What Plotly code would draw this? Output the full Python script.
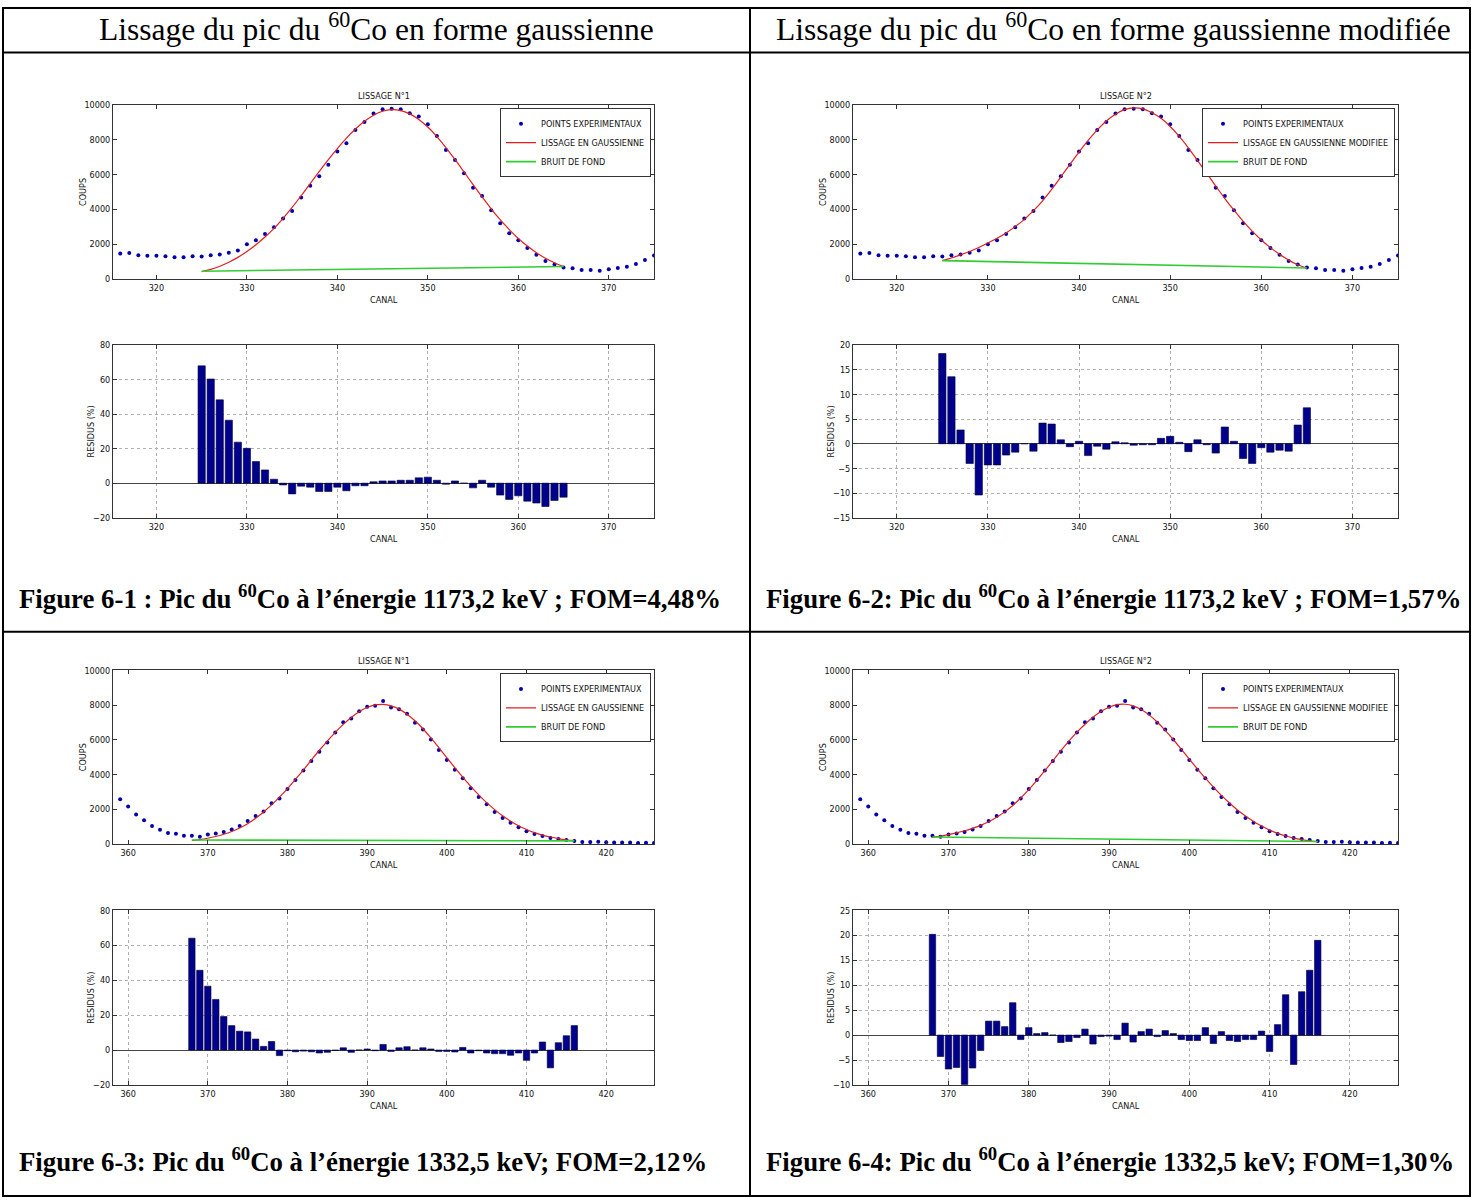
import plotly.graph_objects as go

W, H = 1473, 1203

# ---- 1173,2 keV peak (channels 316-375) ----
canal_a = list(range(316, 376))
coups_a = [1450, 1480, 1350, 1320, 1320, 1290, 1240, 1240, 1300, 1280,
           1350, 1400, 1500, 1620, 1980, 2220, 2580, 2960, 3470, 3900,
           4680, 5360, 5900, 6560, 7330, 7810, 8570, 9030, 9520, 9770,
           9800, 9770, 9540, 9350, 8900, 8230, 7410, 6840, 6080, 5240,
           4770, 3950, 3190, 2620, 2220, 1770, 1380, 1020, 820, 650,
           600, 500, 500, 460, 540, 610, 690, 850, 1080, 1330]
canal_fit_a = list(range(325, 366))
fit_gauss_a = [410, 540, 720, 950, 1230, 1570, 1960, 2400, 2900, 3480,
               4110, 4780, 5480, 6180, 6860, 7500, 8100, 8630, 9070, 9420,
               9650, 9740, 9690, 9500, 9180, 8740, 8190, 7560, 6870, 6150,
               5420, 4710, 4030, 3400, 2830, 2320, 1880, 1500, 1180, 920, 700]
residus_gauss_a = [68, 60.4, 48.3, 36.5, 23.8, 20.2, 12.5, 7.7, 2.3, -1.0,
                   -6.2, -1.7, -2.3, -4.8, -4.8, -2.3, -4.4, -1.5, -1.5, 0.8,
                   1.3, 1.3, 1.7, 1.7, 3.1, 3.5, 1.7, -0.6, 1.3, 0.0,
                   -2.7, 1.7, -2.3, -6.9, -9.4, -7.3, -10.4, -11.5, -13.5, -10.0, -8.1]
fit_mod_a = [1040, 1190, 1370, 1570, 1800, 2060, 2330, 2640, 3000, 3420,
             3920, 4490, 5150, 5860, 6590, 7300, 7970, 8580, 9090, 9480,
             9740, 9840, 9790, 9560, 9240, 8770, 8200, 7540, 6810, 6080,
             5340, 4620, 3950, 3320, 2740, 2230, 1790, 1410, 1070, 800, 620]
residus_mod_a = [18.3, 13.6, 2.8, -4.0, -10.4, -4.3, -4.3, -2.3, -1.7, 0.0,
                 -1.5, 4.2, 4.0, 0.8, -0.6, 0.5, -2.4, -0.5, -1.1, 0.4,
                 0.2, -0.3, -0.2, -0.2, 1.1, 1.5, 0.3, -1.6, 0.8, -0.2,
                 -1.9, 3.4, 0.5, -3.0, -4.0, -0.8, -1.7, -1.3, -1.5, 3.8, 7.3]
canal_bruit_a = [325, 365]
bruit_gauss_a = [430, 700]
bruit_mod_a = [1040, 620]

# ---- 1332,5 keV peak (channels 359-426) ----
canal_b = list(range(359, 427))
coups_b = [2580, 2160, 1700, 1360, 1030, 820, 630, 590, 480, 480,
           420, 540, 610, 690, 840, 1030, 1320, 1610, 1870, 2350,
           2620, 3170, 3690, 4230, 4780, 5320, 5850, 6420, 7020, 7230,
           7650, 7900, 7970, 8240, 7860, 7760, 7510, 6980, 6600, 6020,
           5410, 4840, 4280, 3790, 3210, 2700, 2290, 1840, 1490, 1220,
           960, 730, 570, 460, 340, 290, 230, 170, 120, 110,
           130, 100, 90, 90, 80, 50, 70, 60]
canal_fit_b = list(range(368, 417))
fit_gauss_b = [200, 250, 330, 430, 560, 720, 920, 1170, 1480, 1840,
               2250, 2700, 3190, 3720, 4270, 4840, 5400, 5930, 6430, 6890,
               7290, 7620, 7860, 8010, 8040, 7960, 7770, 7480, 7100, 6640,
               6110, 5550, 4970, 4400, 3850, 3320, 2830, 2380, 1980, 1620,
               1310, 1050, 830, 650, 510, 400, 310, 240, 190]
residus_gauss_b = [64.1, 45.7, 36.6, 29.0, 19.2, 14.0, 10.8, 10.4, 6.3, 2.1,
                   4.9, -3.2, -0.4, -1.0, -0.6, -1.0, -1.7, -1.3, -0.2, 1.3,
                   -1.3, 0.0, 0.6, -0.4, 3.2, -0.8, 1.3, 1.9, 0.0, 1.3,
                   0.6, -0.8, -0.8, -1.1, 1.5, -1.7, -0.4, -1.7, -2.1, -2.1,
                   -3.0, -1.7, -5.9, -1.7, 4.6, -10.2, 4.2, 8.2, 14.0]
fit_mod_b = [390, 450, 540, 640, 760, 900, 1070, 1280, 1540, 1850,
             2220, 2650, 3130, 3660, 4220, 4800, 5380, 5930, 6440, 6900,
             7300, 7630, 7880, 8030, 8050, 7960, 7750, 7440, 7030, 6550,
             6020, 5460, 4890, 4330, 3790, 3280, 2800, 2360, 1960, 1610,
             1300, 1030, 800, 610, 460, 340, 250, 180, 130]
residus_mod_b = [20.2, -4.3, -6.8, -6.5, -9.9, -6.6, -3.1, 2.8, 2.8, 1.7,
                 6.5, -0.9, 1.5, 0.3, 0.5, 0.0, -1.5, -1.3, -0.5, 1.2,
                 -1.8, -0.3, -0.2, -0.9, 2.4, -1.4, 0.7, 1.2, -0.3, 0.9,
                 0.3, -0.9, -1.1, -1.1, 1.5, -1.7, 0.7, -1.1, -1.3, -0.9,
                 -0.9, 0.8, -3.3, 2.1, 8.1, -5.9, 8.7, 13.0, 19.0]
canal_bruit_b = [368, 416]
bruit_gauss_b = [230, 180]
bruit_mod_b = [400, 140]

headers = ["Lissage du pic du <sup>60</sup>Co en forme gaussienne",
           "Lissage du pic du <sup>60</sup>Co en forme gaussienne modifiée"]
captions = [
    "Figure 6-1 : Pic du <sup>60</sup>Co à l’énergie 1173,2 keV ; FOM=4,48%",
    "Figure 6-2: Pic du <sup>60</sup>Co à l’énergie 1173,2 keV ; FOM=1,57%",
    "Figure 6-3: Pic du <sup>60</sup>Co à l’énergie 1332,5 keV; FOM=2,12%",
    "Figure 6-4: Pic du <sup>60</sup>Co à l’énergie 1332,5 keV; FOM=1,30%",
]

panels = [
    dict(col=0, row=0, canal=canal_a, coups=coups_a, canal_fit=canal_fit_a,
         fit=fit_gauss_a, res=residus_gauss_a, canal_bruit=canal_bruit_a,
         bruit=bruit_gauss_a, title="LISSAGE N°1", fitname="LISSAGE EN GAUSSIENNE",
         xr=[315.2, 375], rr=[-20, 80], rd=20),
    dict(col=1, row=0, canal=canal_a, coups=coups_a, canal_fit=canal_fit_a,
         fit=fit_mod_a, res=residus_mod_a, canal_bruit=canal_bruit_a,
         bruit=bruit_mod_a, title="LISSAGE N°2", fitname="LISSAGE EN GAUSSIENNE MODIFIEE",
         xr=[315.2, 375], rr=[-15, 20], rd=5),
    dict(col=0, row=1, canal=canal_b, coups=coups_b, canal_fit=canal_fit_b,
         fit=fit_gauss_b, res=residus_gauss_b, canal_bruit=canal_bruit_b,
         bruit=bruit_gauss_b, title="LISSAGE N°1", fitname="LISSAGE EN GAUSSIENNE",
         xr=[358.1, 426], rr=[-20, 80], rd=20),
    dict(col=1, row=1, canal=canal_b, coups=coups_b, canal_fit=canal_fit_b,
         fit=fit_mod_b, res=residus_mod_b, canal_bruit=canal_bruit_b,
         bruit=bruit_mod_b, title="LISSAGE N°2", fitname="LISSAGE EN GAUSSIENNE MODIFIEE",
         xr=[358.1, 426], rr=[-10, 25], rd=5),
]

# pixel geometry of the table cells
COL_X = [(113, 654), (853, 1398)]
ROWS = [dict(top=(101, 276), res=(343, 517), caption=597),
        dict(top=(671, 846), res=(913, 1089), caption=1165)]
HEADER_Y = 22
COL_CENTER = [377, 1113]
CAPTION_X = [17, 764]


def fx(px):
    return px / W


def fy(py):
    return 1 - py / H


SMALL = dict(family="Liberation Sans Narrow, DejaVu Sans Condensed, Liberation Sans, sans-serif",
             size=9, color="#111111")
SERIF = "Liberation Serif, Times New Roman, serif"

fig = go.Figure()
layout = dict(width=W, height=H, margin=dict(l=0, r=0, t=0, b=0),
              paper_bgcolor="white", plot_bgcolor="white", showlegend=True)
annotations = []
shapes = []


def base_axis():
    return dict(showline=True, linecolor="#333333", linewidth=1, mirror="ticks",
                ticks="inside", ticklen=4, tickcolor="#333333", tickfont=SMALL,
                zeroline=False, showgrid=False, fixedrange=True, tickformat="d")


def note(text, px, py, font, **kw):
    d = dict(text=text, x=fx(px), y=fy(py), xref="paper", yref="paper",
             showarrow=False, font=font, xanchor="center", yanchor="middle")
    d.update(kw)
    return d


for i, p in enumerate(panels):
    x0, x1 = COL_X[p["col"]]
    row = ROWS[p["row"]]
    kt, kr = 2 * i + 1, 2 * i + 2
    xt = "x" if kt == 1 else f"x{kt}"
    yt = "y" if kt == 1 else f"y{kt}"
    xr_, yr_ = f"x{kr}", f"y{kr}"
    leg = "legend" if i == 0 else f"legend{i + 1}"

    # spectrum + fit + background
    fig.add_trace(go.Scatter(x=p["canal"], y=p["coups"], mode="markers",
                             marker=dict(size=4, color="#0000B0"),
                             name="POINTS EXPERIMENTAUX", xaxis=xt, yaxis=yt, legend=leg))
    fig.add_trace(go.Scatter(x=p["canal_fit"], y=p["fit"], mode="lines",
                             line=dict(color="#E02020", width=1.2, shape="spline"),
                             name=p["fitname"], xaxis=xt, yaxis=yt, legend=leg))
    fig.add_trace(go.Scatter(x=p["canal_bruit"], y=p["bruit"], mode="lines",
                             line=dict(color="#33CC33", width=1.6),
                             name="BRUIT DE FOND", xaxis=xt, yaxis=yt, legend=leg))
    # residuals
    fig.add_trace(go.Bar(x=p["canal_fit"], y=p["res"], width=0.8,
                         marker=dict(color="#00008C", line=dict(color="#000033", width=0.6)),
                         showlegend=False, xaxis=xr_, yaxis=yr_))

    ax = base_axis()
    ax.update(domain=[fx(x0), fx(x1)], range=p["xr"], tick0=0, dtick=10, anchor=yt)
    layout["xaxis" if kt == 1 else f"xaxis{kt}"] = ax
    ay = base_axis()
    ay.update(domain=[fy(row["top"][1]), fy(row["top"][0])], range=[0, 10000],
              tick0=0, dtick=2000, anchor=xt)
    layout["yaxis" if kt == 1 else f"yaxis{kt}"] = ay

    axr = base_axis()
    axr.update(domain=[fx(x0), fx(x1)], range=p["xr"], tick0=0, dtick=10,
               anchor=yr_, showgrid=True, gridcolor="#b0b0b0", griddash="dot", gridwidth=1)
    layout[f"xaxis{kr}"] = axr
    ayr = base_axis()
    ayr.update(domain=[fy(row["res"][1]), fy(row["res"][0])], range=p["rr"],
               tick0=0, dtick=p["rd"], anchor=xr_, showgrid=True, gridcolor="#b0b0b0",
               griddash="dot", gridwidth=1, zeroline=True, zerolinecolor="#444444",
               zerolinewidth=1)
    layout[f"yaxis{kr}"] = ayr

    layout[leg] = dict(x=fx(x1 - 3), xanchor="right", y=fy(row["top"][0] + 3), yanchor="top",
                       bgcolor="white", bordercolor="#333333", borderwidth=1,
                       font=SMALL, itemwidth=30, tracegroupgap=0)

    xc = (x0 + x1) / 2
    annotations += [
        note(p["title"], xc, row["top"][0] - 9, SMALL),
        note("CANAL", xc, row["top"][1] + 21, SMALL),
        note("CANAL", xc, row["res"][1] + 21, SMALL),
        note("COUPS", x0 - 30, sum(row["top"]) / 2, SMALL, textangle=-90),
        note("RESIDUS (%)", x0 - 22, sum(row["res"]) / 2, SMALL, textangle=-90),
        note("<b>" + captions[i] + "</b>", CAPTION_X[p["col"]], row["caption"],
             dict(family=SERIF, size=26.8, color="black"), xanchor="left"),
    ]

for c in range(2):
    annotations.append(note(headers[c], COL_CENTER[c], HEADER_Y,
                            dict(family=SERIF, size=31.5, color="black")))

# table rules
line = dict(color="black", width=2)
shapes += [
    dict(type="rect", xref="paper", yref="paper", x0=fx(3), x1=fx(1470), y0=fy(1201), y1=fy(3),
         line=line),
    dict(type="line", xref="paper", yref="paper", x0=fx(3), x1=fx(1470), y0=fy(48), y1=fy(48),
         line=line),
    dict(type="line", xref="paper", yref="paper", x0=fx(3), x1=fx(1470), y0=fy(632), y1=fy(632),
         line=line),
    dict(type="line", xref="paper", yref="paper", x0=fx(750), x1=fx(750), y0=fy(1201), y1=fy(3),
         line=line),
]

layout["annotations"] = annotations
layout["shapes"] = shapes
fig.update_layout(**layout)
fig.write_html("out.html")
